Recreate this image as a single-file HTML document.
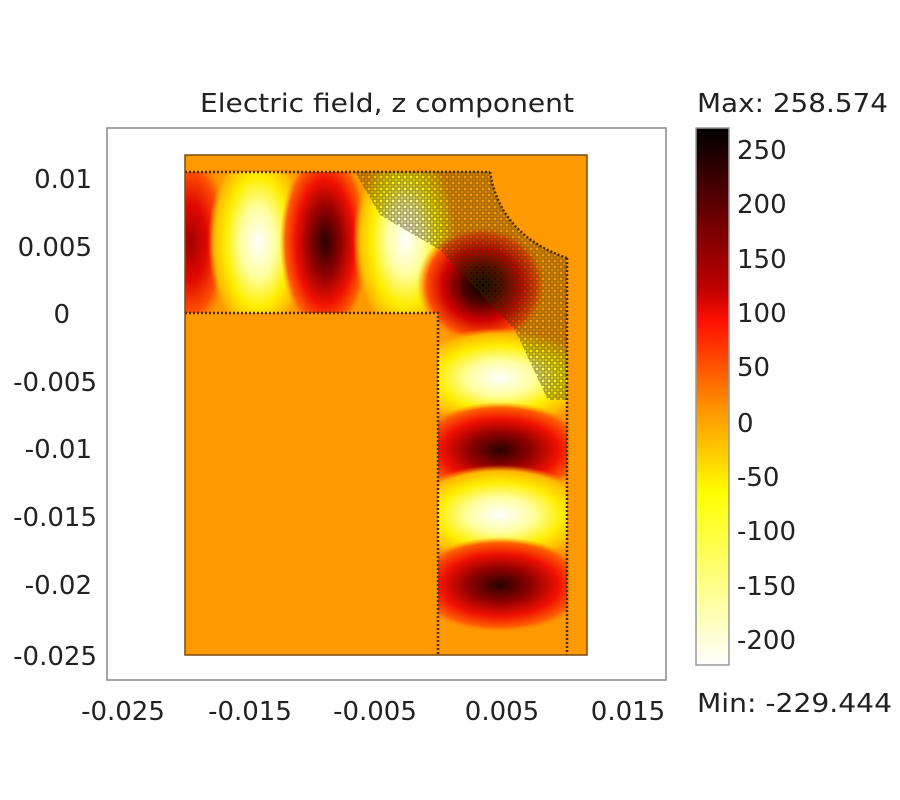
<!DOCTYPE html>
<html><head><meta charset="utf-8"><style>
html,body{margin:0;padding:0;background:#fff;}
svg{display:block;}
text{font-family:"DejaVu Sans","Liberation Sans",sans-serif;fill:#222;font-size:26px;}
</style></head><body>
<svg width="900" height="800" viewBox="0 0 900 800" xmlns="http://www.w3.org/2000/svg">
<defs>
<radialGradient id="wh" cx="50%" cy="50%" r="50%">
<stop offset="0" stop-color="#ffffff"/>
<stop offset="0.35" stop-color="#ffffa0"/>
<stop offset="0.65" stop-color="#ffee00"/>
<stop offset="0.88" stop-color="#ffb800"/>
<stop offset="1" stop-color="#ff9900" stop-opacity="0"/>
</radialGradient>
<radialGradient id="dk" cx="50%" cy="50%" r="50%">
<stop offset="0" stop-color="#2a0000"/>
<stop offset="0.35" stop-color="#900000"/>
<stop offset="0.65" stop-color="#f01000"/>
<stop offset="0.88" stop-color="#ff6000"/>
<stop offset="1" stop-color="#ff9900" stop-opacity="0"/>
</radialGradient>
<radialGradient id="rd" cx="50%" cy="50%" r="50%">
<stop offset="0" stop-color="#a00000"/>
<stop offset="0.4" stop-color="#e00800"/>
<stop offset="0.75" stop-color="#ff5000"/>
<stop offset="1" stop-color="#ff9900" stop-opacity="0"/>
</radialGradient>
<radialGradient id="bk" cx="50%" cy="50%" r="50%">
<stop offset="0" stop-color="#000000"/>
<stop offset="0.3" stop-color="#500000"/>
<stop offset="0.6" stop-color="#d00000"/>
<stop offset="0.85" stop-color="#ff5000"/>
<stop offset="1" stop-color="#ff9900" stop-opacity="0"/>
</radialGradient>
<linearGradient id="cb" x1="0" y1="0" x2="0" y2="1">
<stop offset="0" stop-color="#000000"/>
<stop offset="0.3" stop-color="#c00000"/>
<stop offset="0.36" stop-color="#ff1000"/>
<stop offset="0.53" stop-color="#ff9900"/>
<stop offset="0.68" stop-color="#ffff00"/>
<stop offset="1" stop-color="#ffffff"/>
</linearGradient>
<clipPath id="guide">
<path d="M185 172 L490 172 Q500 235 567 258 L567 655 L438 655 L438 313 L185 313 Z"/>
</clipPath>
<pattern id="mesh" width="6" height="6" patternUnits="userSpaceOnUse">
<rect x="1" y="1" width="4" height="4" fill="none" stroke="#3a3000" stroke-width="1.2"/>
</pattern>
</defs>
<rect x="107" y="128" width="559" height="552" fill="#fff" stroke="#888" stroke-width="1.5"/>
<rect x="185" y="155" width="402" height="500" fill="#ff9900"/>
<g clip-path="url(#guide)">
<ellipse cx="190" cy="242" rx="42" ry="95" fill="url(#rd)"/>
<ellipse cx="258" cy="242" rx="50" ry="100" fill="url(#wh)"/>
<ellipse cx="325" cy="242" rx="45" ry="95" fill="url(#dk)"/>
<ellipse cx="405" cy="240" rx="52" ry="100" fill="url(#wh)"/>
<ellipse cx="482" cy="285" rx="65" ry="60" fill="url(#bk)"/>
<ellipse cx="500" cy="378" rx="95" ry="50" fill="url(#wh)"/>
<ellipse cx="500" cy="450" rx="90" ry="48" fill="url(#dk)"/>
<ellipse cx="500" cy="515" rx="95" ry="50" fill="url(#wh)"/>
<ellipse cx="500" cy="585" rx="90" ry="48" fill="url(#dk)"/>
<path d="M355 172 L490 172 Q500 235 567 258 L567 400 L548 400 L515 330 L440 250 L380 215 Z" fill="url(#mesh)" opacity="0.6"/>
</g>
<g fill="none" stroke="#4a2a00" stroke-width="2.5" stroke-dasharray="2 2">
<path d="M185 172 L490 172"/>
<path d="M185 313 L438 313 L438 655"/>
<path d="M567 258 L567 655"/>
<path d="M490 172 Q500 235 567 258"/>
</g>
<rect x="185" y="155" width="402" height="500" fill="none" stroke="#7a4a10" stroke-width="1.5"/>
<text x="387" y="112" text-anchor="middle" textLength="374" lengthAdjust="spacingAndGlyphs">Electric field, z component</text>
<g text-anchor="end">
<text x="92" y="188">0.01</text>
<text x="92" y="256">0.005</text>
<text x="70" y="323">0</text>
<text x="97" y="391">-0.005</text>
<text x="92" y="458">-0.01</text>
<text x="97" y="526">-0.015</text>
<text x="92" y="594">-0.02</text>
<text x="97" y="665">-0.025</text>
</g>
<g text-anchor="middle">
<text x="123" y="720">-0.025</text>
<text x="250" y="720">-0.015</text>
<text x="375" y="720">-0.005</text>
<text x="502" y="720">0.005</text>
<text x="628" y="720">0.015</text>
</g>
<text x="697" y="112" textLength="191" lengthAdjust="spacingAndGlyphs">Max: 258.574</text>
<text x="697" y="712" textLength="195" lengthAdjust="spacingAndGlyphs">Min: -229.444</text>
<rect x="696" y="128" width="33" height="537" fill="url(#cb)" stroke="#999" stroke-width="1.5"/>
<g text-anchor="start">
<text x="737" y="159">250</text>
<text x="737" y="213">200</text>
<text x="737" y="268">150</text>
<text x="737" y="322">100</text>
<text x="737" y="376">50</text>
<text x="737" y="432">0</text>
<text x="737" y="486">-50</text>
<text x="737" y="540">-100</text>
<text x="737" y="595">-150</text>
<text x="737" y="649">-200</text>
</g>
</svg>
</body></html>
